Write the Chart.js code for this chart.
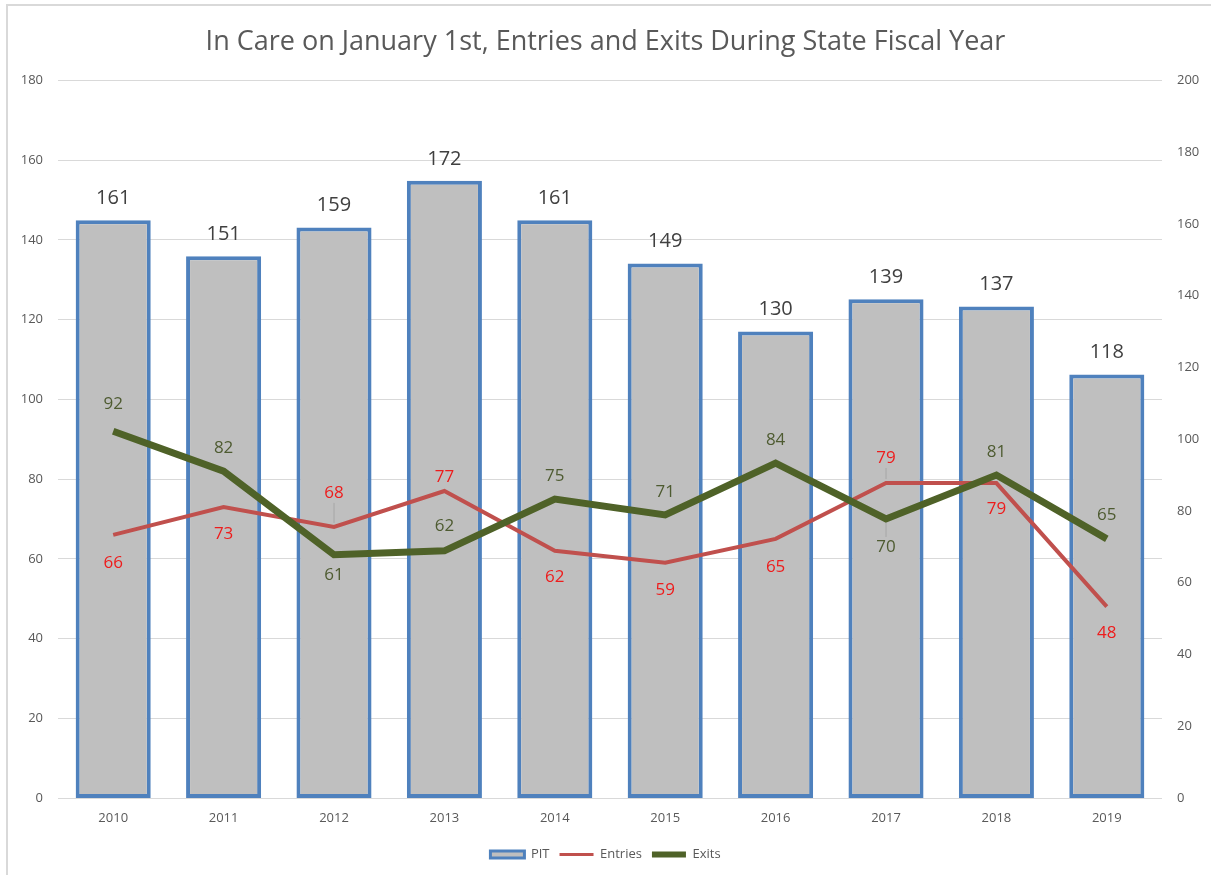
<!DOCTYPE html>
<html><head><meta charset="utf-8">
<script src="https://cdn.jsdelivr.net/npm/chart.js@4/dist/chart.umd.min.js"></script>
<style>
html,body{margin:0;padding:0;background:#fff;}
#wrap{position:relative;width:1211px;height:875px;overflow:hidden;}
#frame{position:absolute;left:6px;top:4px;right:-10px;bottom:-10px;border-left:2px solid #d9d9d9;border-top:2px solid #d9d9d9;pointer-events:none;}
canvas{display:block;}
</style></head>
<body><div id="wrap"><canvas id="c" width="1211" height="875"></canvas><div id="frame"></div></div>
<script>
const years = ['2010','2011','2012','2013','2014','2015','2016','2017','2018','2019'];
const pit = [161, 151, 159, 172, 161, 149, 130, 139, 137, 118];
const entries = [66, 73, 68, 77, 62, 59, 65, 79, 79, 48];
const exits = [92, 82, 61, 62, 75, 71, 84, 70, 81, 65];
const leftTicks = [0, 20, 40, 60, 80, 100, 120, 140, 160, 180];
const rightTicks = [0, 20, 40, 60, 80, 100, 120, 140, 160, 180, 200];

const FONT = "'Open Sans', 'Liberation Sans', sans-serif";
const GREY = '#595959';

const labelPlugin = {
  id: 'valueLabels',
  afterDatasetsDraw(chart) {
    const ctx = chart.ctx;
    chart.data.datasets.forEach((ds, di) => {
      const meta = chart.getDatasetMeta(di);
      const lbl = ds.valueLabel;
      if (!lbl) return;
      ctx.save();
      ctx.font = lbl.size + 'px ' + FONT;
      ctx.textAlign = 'center';
      ctx.textBaseline = 'middle';
      meta.data.forEach((el, i) => {
        const off = Array.isArray(lbl.offset) ? lbl.offset[i] : lbl.offset;
        const x = el.x, y = el.y + off;
        if (lbl.leader && lbl.leader[i]) {
          const dir = off < 0 ? 1 : -1;
          const y0 = y + dir * 10, y1 = el.y - dir * 4;
          ctx.strokeStyle = '#a6a6a6';
          ctx.lineWidth = 1;
          ctx.beginPath(); ctx.moveTo(x, y0); ctx.lineTo(x, y1); ctx.stroke();
        }
        ctx.fillStyle = lbl.color;
        ctx.fillText(String(ds.data[i]), x, y);
      });
      ctx.restore();
    });
  }
};

new Chart(document.getElementById('c'), {
  data: {
    labels: years,
    datasets: [
      {
        type: 'bar', label: 'PIT', data: pit, yAxisID: 'y1', order: 2,
        backgroundColor: '#bfbfbf', borderColor: '#4f81bd', borderWidth: 4, borderSkipped: false,
        barPercentage: 0.68, categoryPercentage: 1,
        valueLabel: { size: 20, color: '#404040', offset: -22 }
      },
      {
        type: 'line', label: 'Entries', data: entries, yAxisID: 'y', order: 1,
        borderColor: '#c0504d', backgroundColor: '#c0504d', borderWidth: 4, pointRadius: 0, tension: 0,
        valueLabel: { size: 17, color: '#ee1c1c', offset: [28, 27, -34, -14, 26, 27, 28, -25, 26, 27],
                      leader: [0, 0, 1, 0, 0, 0, 0, 1, 0, 0] }
      },
      {
        type: 'line', label: 'Exits', data: exits, yAxisID: 'y', order: 0,
        borderColor: '#4f6228', backgroundColor: '#4f6228', borderWidth: 7, pointRadius: 0, tension: 0,
        valueLabel: { size: 17, color: '#4e5b31', offset: [-27, -23, 20, -25, -23, -23, -23, 28, -23, -24],
                      leader: [0, 0, 0, 0, 0, 0, 0, 1, 0, 0] }
      }
    ]
  },
  options: {
    responsive: false,
    animation: false,
    layout: { padding: { left: 0, right: 0, top: 0, bottom: 4 } },
    plugins: {
      title: {
        display: true,
        text: 'In Care on January 1st, Entries and Exits During State Fiscal Year',
        color: GREY,
        font: { family: FONT, size: 27, weight: 'normal' },
        padding: { top: 26, bottom: 22 }
      },
      legend: {
        position: 'bottom',
        labels: {
          color: GREY,
          font: { family: FONT, size: 13 },
          usePointStyle: true,
          pointStyleWidth: 34,
          boxHeight: 7,
          padding: 10,
          generateLabels(chart) {
            return chart.data.datasets.map((ds, i) => ({
              text: ds.label,
              datasetIndex: i,
              fillStyle: ds.backgroundColor,
              strokeStyle: ds.borderColor,
              lineWidth: ds.type === 'bar' ? 3 : (ds.label === 'Exits' ? 6 : 3),
              pointStyle: ds.type === 'bar' ? 'rect' : 'line',
              fontColor: GREY,
              hidden: false
            }));
          }
        }
      },
      tooltip: { enabled: false }
    },
    scales: {
      x: {
        grid: { display: false, drawTicks: false },
        border: { display: false },
        ticks: { color: GREY, font: { family: FONT, size: 13 }, padding: 12 },
        afterFit(s) { s.height = 40; }
      },
      y: {
        position: 'left',
        min: 0, max: 180,
        afterBuildTicks(s) { s.ticks = leftTicks.map(v => ({ value: v })); },
        grid: { color: '#d9d9d9', lineWidth: 1, drawTicks: false },
        border: { display: false },
        ticks: { color: GREY, font: { family: FONT, size: 13 }, padding: 15 },
        afterFit(s) { s.width = 58; }
      },
      y1: {
        position: 'right',
        min: 0, max: 200,
        afterBuildTicks(s) { s.ticks = rightTicks.map(v => ({ value: v })); },
        grid: { display: false, drawTicks: false },
        border: { display: false },
        ticks: { color: GREY, font: { family: FONT, size: 13 }, padding: 15 },
        afterFit(s) { s.width = 49; }
      }
    }
  },
  plugins: [labelPlugin]
});
</script>
</body></html>
